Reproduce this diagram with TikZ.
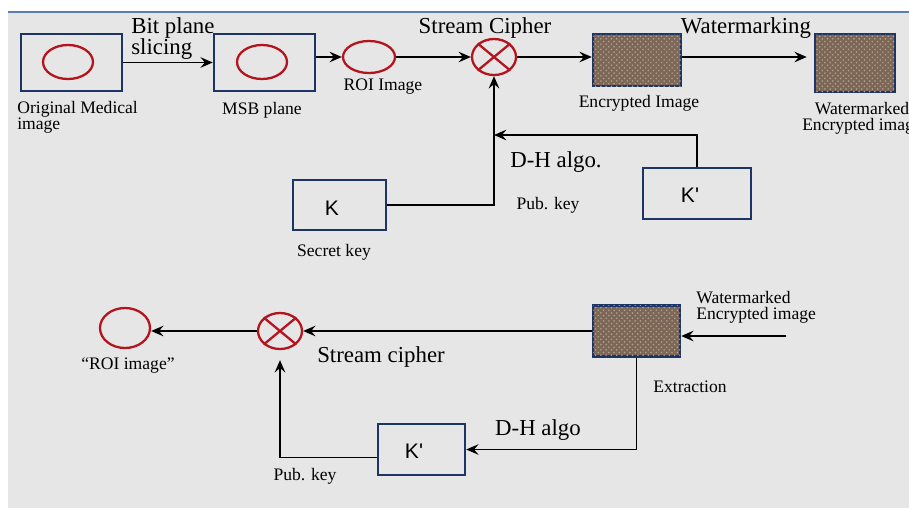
\documentclass[tikz,border=0pt]{standalone}
\usepackage{fontspec}
\setmainfont{Liberation Serif}
\newfontfamily\keyfont{Liberation Sans}
\usetikzlibrary{arrows.meta,shapes.geometric,patterns}

\definecolor{bgray}{HTML}{E6E6E6}
\definecolor{topline}{HTML}{5B7FB5}
\definecolor{boxblue}{HTML}{1C3566}
\definecolor{ringred}{HTML}{B4141E}
\definecolor{encbrown}{HTML}{7C6656}
\definecolor{encdots}{HTML}{B3A292}

\tikzset{
  imgbox/.style={draw=boxblue, line width=1.4pt, rectangle, inner sep=0pt},
  encbox/.style={imgbox, fill=encbrown, postaction={pattern=crosshatch dots, pattern color=encdots}},
  ring/.style={draw=ringred, line width=1.3pt, ellipse, inner sep=0pt},
  arr/.style={line width=1.1pt, -{Stealth[length=7pt,width=6pt,inset=2.5pt]}},
  wire/.style={line width=1.1pt},
  small/.style={font=\fontsize{10}{9}\selectfont, inner sep=0pt},
  big/.style={font=\fontsize{13}{12}\selectfont, inner sep=0pt},
  keytxt/.style={font=\keyfont\fontsize{12}{12}\selectfont, inner sep=0pt}
}

\begin{document}
\begin{tikzpicture}[x=0.02cm, y=-0.02cm]
    \useasboundingbox (0,0) rectangle (909,508);
    \fill[white] (0,0) rectangle (909,508);
    \fill[bgray] (8,12) rectangle (909,508);
    \draw[topline, line width=0.8pt] (8,12) -- (909,12);

    % encryption side
    \node[imgbox, minimum width=2.02cm, minimum height=1.14cm] (orig) at (71.5,62.5) {};
    \node[ring, minimum width=1.0cm, minimum height=0.68cm] at (68,62) {};
    \node[imgbox, minimum width=2.02cm, minimum height=1.14cm] (msb) at (264.5,62.5) {};
    \node[ring, minimum width=1.0cm, minimum height=0.68cm] at (262,62) {};
    \node[ring, minimum width=1.04cm, minimum height=0.64cm] (roi) at (369,57) {};
    \node[ring, minimum width=0.88cm, minimum height=0.72cm] (xor) at (494,57) {};
    \draw[ringred, line width=1.3pt] (xor.north west) -- (xor.south east) (xor.north east) -- (xor.south west);
    \node[encbox, minimum width=1.76cm, minimum height=1.04cm] (enc) at (637,60) {};
    \node[encbox, minimum width=1.6cm, minimum height=1.16cm] (wm) at (855,63) {};
    \node[imgbox, minimum width=1.86cm, minimum height=1.0cm] (k) at (339.5,205) {};
    \node[imgbox, minimum width=2.16cm, minimum height=1.02cm] (kp) at (697,193.5) {};
    \node[keytxt] at (332,208) {K};
    \node[keytxt] at (690,195) {K'};
    \coordinate (pubin) at (494,135);

    \draw[arr] (orig.east) -- (msb.west);
    \draw[arr] (msb.east |- roi.west) -- (roi.west);
    \draw[arr] (roi.east) -- (xor.west);
    \draw[arr] (xor.east) -- (enc.west |- xor.east);
    \draw[arr, shorten >=4pt] (enc.east |- xor.east) -- (wm.west |- xor.east);
    \draw[arr] (k.east) -| (xor.south);
    \draw[arr] (kp.north) |- (pubin);

    \node[small, anchor=north west, align=left] at (17,101) {Original Medical\\image};
    \node[big, anchor=north west, align=left] at (131,17) {Bit plane\\slicing};
    \node[small] at (262,110) {MSB plane};
    \node[small] at (383,87) {ROI Image};
    \node[big] at (485,28) {Stream Cipher};
    \node[small] at (639,103) {Encrypted Image};
    \node[big] at (746,28) {Watermarking};
    \node[small, align=center] at (862,118) {Watermarked\\Encrypted image};
    \node[big] at (556,162) {D-H algo.};
    \node[small] at (548,205) {Pub. key};
    \node[small] at (334,252) {Secret key};

    % decryption side
    \node[ring, minimum width=1.0cm, minimum height=0.8cm] (roi2) at (125,328) {};
    \node[ring, minimum width=0.88cm, minimum height=0.72cm] (xor2) at (280,331) {};
    \draw[ringred, line width=1.3pt] (xor2.north west) -- (xor2.south east) (xor2.north east) -- (xor2.south west);
    \node[encbox, minimum width=1.74cm, minimum height=1.02cm] (wm2) at (636.5,331) {};
    \node[imgbox, minimum width=1.74cm, minimum height=1.02cm] (kp2) at (421.5,449.5) {};
    \node[keytxt] at (414,451) {K'};
    \coordinate (wmin) at (786,336);

    \draw[arr] (wmin) -- (wm2.east |- wmin);
    \draw[arr] (wm2.west) -- (xor2.east);
    \draw[arr] (xor2.west) -- (roi2.east |- xor2.west);
    \draw[arr] (wm2.south) |- (kp2.east);
    \draw[arr, shorten >=0.2cm] ([yshift=-0.16cm]kp2.west) -| (xor2.south);

    \node[small, anchor=north west, align=left] at (696,291) {Watermarked\\Encrypted image};
    \node[small] at (690,387) {Extraction};
    \node[big] at (381,357) {Stream cipher};
    \node[small] at (128,366) {``ROI image''};
    \node[big] at (538,430) {D-H algo};
    \node[small] at (305,476) {Pub. key};
\end{tikzpicture}
\end{document}
